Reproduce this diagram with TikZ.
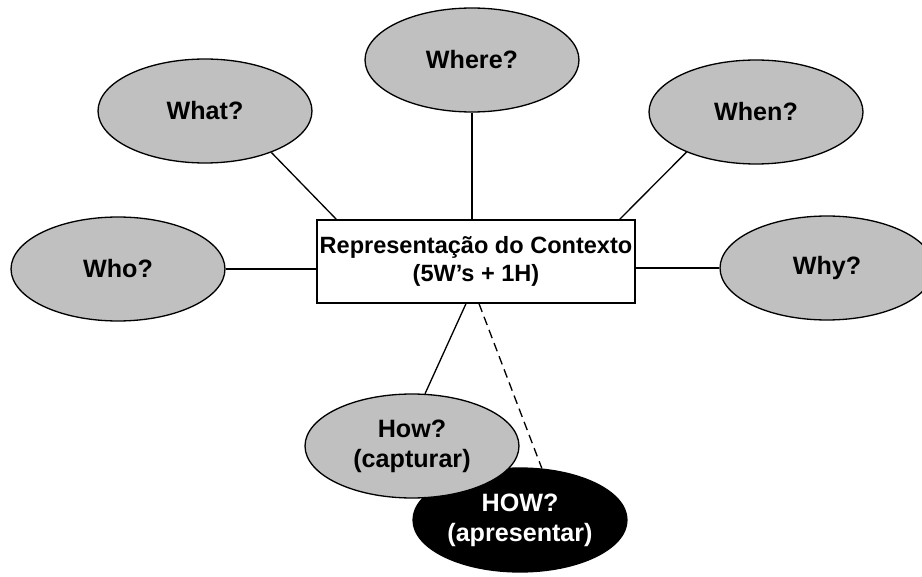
\documentclass[tikz,border=0pt]{standalone}
\usepackage{fontspec}
\setmainfont{Liberation Sans}
\usetikzlibrary{shapes.geometric}
\definecolor{ovalgray}{RGB}{192,192,192}

\begin{document}
\begin{tikzpicture}[x=0.02cm,y=-0.02cm,
  oval/.style={ellipse,draw,line width=0.75pt,fill=ovalgray,minimum width=4.28cm,minimum height=2.08cm,inner sep=0pt,align=center,font=\fontsize{14.3}{17}\selectfont\bfseries},
  ctxbox/.style={rectangle,draw,line width=0.75pt,fill=white,minimum width=6.36cm,minimum height=1.66cm,inner sep=0pt,align=center,font=\fontsize{13.4}{15.8}\selectfont\bfseries},
  link/.style={line width=0.75pt}]
\useasboundingbox (0,0) rectangle (922,577);
\clip (0,0) rectangle (922,577);
% the context box in the middle
\node[ctxbox] (ctx) at (476,261.5) {Representação do Contexto\\(5W’s + 1H)};
% the questions round it
\node[oval] (where) at (472,60) {Where?};
\node[oval] (what) at (205,111) {What?};
\node[oval] (when) at (756,112) {When?};
\node[oval] (who) at (118,269) {Who?};
\node[oval] (why) at (827,268) {Why?};
\node[oval,fill=black,text=white] (howshow) at (520,520) {HOW?\\(apresentar)};
\node[oval] (howcap) at (412,446) {How?\\(capturar)};
% connectors
\draw[link] (where.south) -- (where.south |- ctx.north);
\draw[link] (what.-32) -- ([xshift=0.4cm]ctx.north west);
\draw[link] (when.210) -- ([xshift=-0.32cm]ctx.north east);
\draw[link] (who.east) -- (who.east -| ctx.west);
\draw[link] (why.west) -- (why.west -| ctx.east);
\draw[link] ([xshift=-0.2cm]ctx.south) -- (howcap.76);
\draw[link,dash pattern=on 5pt off 3pt] ([xshift=0.06cm]ctx.south) -- (howshow.67);
\end{tikzpicture}
\end{document}
